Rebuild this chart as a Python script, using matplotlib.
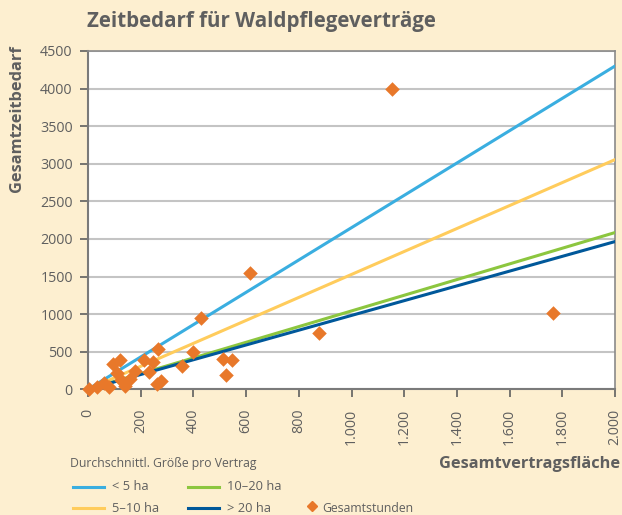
import matplotlib
matplotlib.use("Agg")
import matplotlib.pyplot as plt
from matplotlib.lines import Line2D
from matplotlib.ticker import FuncFormatter

# Data
pts_x = [5, 35, 61, 78, 94, 121, 109, 124, 142, 158, 180, 213, 230, 248, 266,
         263, 276, 357, 397, 427, 514, 546, 524, 615, 877, 1154, 1763]
pts_y = [5, 27, 85, 30, 330, 385, 215, 130, 50, 135, 245, 395, 230, 360, 535,
         70, 115, 305, 490, 950, 400, 390, 190, 1550, 750, 4000, 1020]

line_x = [0, 2000]
line_lt5 = [0, 4300]
line_5_10 = [0, 3055]
line_10_20 = [0, 2085]
line_gt20 = [0, 1965]

x_ticks = [0, 200, 400, 600, 800, 1000, 1200, 1400, 1600, 1800, 2000]
y_ticks = [0, 500, 1000, 1500, 2000, 2500, 3000, 3500, 4000, 4500]

BG = "#FDEFD0"
C_LT5 = "#3AAEE0"
C_5_10 = "#FFCC5C"
C_10_20 = "#8CC63F"
C_GT20 = "#00589A"
C_PT = "#E8782A"
TXT = "#5f5f5f"

plt.rcParams['font.family'] = ['Open Sans', 'DejaVu Sans']

fig = plt.figure(figsize=(6.22, 5.15), dpi=100, facecolor=BG)
ax = fig.add_axes([88/622, 1-389.3/515, (615-88)/622, (389.3-51)/515])
ax.set_facecolor("white")

ax.plot(line_x, line_lt5, color=C_LT5, lw=2.2, zorder=3)
ax.plot(line_x, line_5_10, color=C_5_10, lw=2.2, zorder=3)
ax.plot(line_x, line_10_20, color=C_10_20, lw=2.2, zorder=3)
ax.plot(line_x, line_gt20, color=C_GT20, lw=2.2, zorder=3)
ax.scatter(pts_x, pts_y, marker='D', s=55, color=C_PT, zorder=4, linewidths=0, clip_on=False)

ax.set_xlim(0, 2000)
ax.set_ylim(0, 4500)
ax.set_xticks(x_ticks)
ax.set_yticks(y_ticks)
ax.xaxis.set_major_formatter(FuncFormatter(lambda v, p: f"{int(v):,}".replace(",", ".")))
ax.tick_params(axis='x', rotation=90, labelsize=10.3, colors=TXT, length=6, width=1.2, pad=8)
ax.tick_params(axis='y', labelsize=10.3, colors=TXT, length=6, width=1.2, pad=5)
ax.grid(axis='y', color="#c4c4c4", lw=1.5)
ax.set_axisbelow(True)
for s in ['top', 'right']:
    ax.spines[s].set_color("#8a8a8a")
    ax.spines[s].set_linewidth(1.2)
for s in ['left', 'bottom']:
    ax.spines[s].set_color("#7a7a7a")
    ax.spines[s].set_linewidth(1.5)

fig.text(87/622, 1-22/515, "Zeitbedarf für Waldpflegeverträge", fontsize=14.8, fontweight='bold',
         color=TXT, ha='left', va='center')
fig.text(17/622, 1-45/515, "Gesamtzeitbedarf", fontsize=11.8, fontweight='bold', color=TXT,
         rotation=90, ha='center', va='top')
fig.text(620/622, 1-464/515, "Gesamtvertragsfläche", fontsize=11.8, fontweight='bold', color=TXT,
         ha='right', va='center')
fig.text(70/622, 1-464/515, "Durchschnittl. Größe pro Vertrag", fontsize=8.8, color=TXT,
         ha='left', va='center')

legend_items = [
    (73, 487, C_LT5, "< 5 ha"),
    (73, 508, C_5_10, "5\u201310 ha"),
    (188, 487, C_10_20, "10\u201320 ha"),
    (188, 508, C_GT20, "> 20 ha"),
]
for x0, y0, c, lab in legend_items:
    fig.add_artist(Line2D([x0/622, (x0+31)/622], [1-y0/515, 1-y0/515], color=c, lw=2.2,
                          transform=fig.transFigure))
    fig.text((x0+39)/622, 1-y0/515, lab, fontsize=9.3, color=TXT, ha='left', va='center')
fig.add_artist(Line2D([312/622], [1-506/515], marker='D', markersize=5.5, color=C_PT, lw=0,
                      transform=fig.transFigure))
fig.text(322/622, 1-508/515, "Gesamtstunden", fontsize=8.8, color=TXT, ha='left', va='center')

fig.savefig("out.png", dpi=100, facecolor=BG)
